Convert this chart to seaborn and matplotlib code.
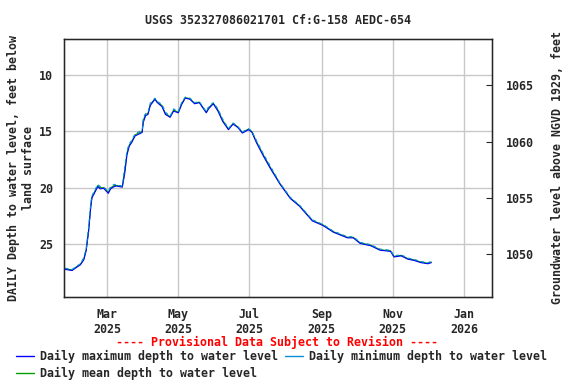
import pandas as pd
import matplotlib
matplotlib.use("Agg")
import matplotlib.pyplot as plt
import matplotlib.dates as mdates
from matplotlib.lines import Line2D
import seaborn as sns

dates = ["2025-01-24", "2025-01-30", "2025-02-03", "2025-02-06", "2025-02-09",
         "2025-02-11", "2025-02-13", "2025-02-15", "2025-02-16", "2025-02-19",
         "2025-02-21", "2025-02-23", "2025-02-26", "2025-03-02", "2025-03-04",
         "2025-03-07", "2025-03-09", "2025-03-14", "2025-03-16", "2025-03-18",
         "2025-03-20", "2025-03-22", "2025-03-25", "2025-03-31", "2025-04-01",
         "2025-04-03", "2025-04-05", "2025-04-07", "2025-04-11", "2025-04-13",
         "2025-04-17", "2025-04-20", "2025-04-24", "2025-04-27", "2025-05-01",
         "2025-05-04", "2025-05-07", "2025-05-11", "2025-05-15", "2025-05-19",
         "2025-05-25", "2025-05-27", "2025-05-31", "2025-06-04", "2025-06-08",
         "2025-06-13", "2025-06-17", "2025-06-21", "2025-06-25", "2025-06-30",
         "2025-07-03", "2025-07-07", "2025-07-13", "2025-07-19", "2025-07-27",
         "2025-08-05", "2025-08-13", "2025-08-24", "2025-09-02", "2025-09-11",
         "2025-09-23", "2025-09-28", "2025-10-04", "2025-10-13", "2025-10-21",
         "2025-10-30", "2025-11-02", "2025-11-08", "2025-11-14", "2025-11-19",
         "2025-11-25", "2025-12-01", "2025-12-04"]

mean_depth = [27.2, 27.3, 27.0, 26.8, 26.3, 25.5, 23.8, 21.5, 20.8, 20.2,
              19.8, 20.0, 20.0, 20.4, 20.0, 19.8, 19.8, 19.9, 18.5, 16.9,
              16.2, 15.9, 15.3, 15.0, 14.0, 13.5, 13.4, 12.6, 12.1, 12.4,
              12.7, 13.4, 13.7, 13.1, 13.3, 12.5, 12.0, 12.1, 12.5, 12.4,
              13.3, 12.9, 12.5, 13.1, 14.0, 14.8, 14.3, 14.6, 15.1, 14.8,
              15.0, 15.9, 17.1, 18.2, 19.6, 20.9, 21.6, 22.9, 23.3, 23.9,
              24.4, 24.4, 24.9, 25.1, 25.5, 25.6, 26.1, 26.0, 26.3, 26.4,
              26.6, 26.7, 26.6]

max_depth = [27.25, 27.35, 27.05, 26.85, 26.4, 25.6, 24.0, 21.7, 20.9, 20.3,
             19.9, 20.1, 20.05, 20.5, 20.1, 19.9, 19.85, 19.95, 18.8, 17.1,
             16.3, 16.0, 15.4, 15.1, 14.2, 13.6, 13.5, 12.7, 12.15, 12.45,
             12.8, 13.5, 13.75, 13.2, 13.35, 12.6, 12.05, 12.15, 12.55, 12.45,
             13.35, 13.0, 12.55, 13.2, 14.1, 14.85, 14.35, 14.65, 15.15, 14.85,
             15.05, 16.0, 17.2, 18.3, 19.65, 20.95, 21.65, 22.95, 23.35, 23.95,
             24.45, 24.45, 24.95, 25.15, 25.55, 25.65, 26.15, 26.05, 26.35, 26.45,
             26.65, 26.75, 26.65]

min_depth = [27.15, 27.25, 26.95, 26.75, 26.2, 25.4, 23.6, 21.3, 20.7, 20.1,
             19.7, 19.9, 19.95, 20.3, 19.9, 19.7, 19.75, 19.85, 18.2, 16.7,
             16.1, 15.8, 15.2, 14.9, 13.8, 13.4, 13.3, 12.5, 12.05, 12.35,
             12.6, 13.3, 13.65, 13.0, 13.25, 12.4, 11.95, 12.05, 12.45, 12.35,
             13.25, 12.8, 12.45, 13.0, 13.9, 14.75, 14.25, 14.55, 15.05, 14.75,
             14.95, 15.8, 17.0, 18.1, 19.55, 20.85, 21.55, 22.85, 23.25, 23.85,
             24.35, 24.35, 24.85, 25.05, 25.45, 25.55, 26.05, 25.95, 26.25, 26.35,
             26.55, 26.65, 26.55]

land_surface = 1075.9
depth_ticks = [10, 15, 20, 25]
elev_ticks = [1050, 1055, 1060, 1065]

df = pd.DataFrame({"date": pd.to_datetime(dates), "max": max_depth,
                   "min": min_depth, "mean": mean_depth})

sns.set_style("white")
plt.rcParams["font.family"] = ["DejaVu Sans Mono"]
plt.rcParams["font.weight"] = "bold"
plt.rcParams["font.size"] = 8.4

fig = plt.figure(figsize=(5.76, 3.84), dpi=100)
ax = fig.add_axes([64 / 576, 87 / 384, 428 / 576, 258 / 384])

c_max, c_min, c_mean = "#0000ff", "#0a8fd6", "#00a000"
sns.lineplot(data=df, x="date", y="mean", ax=ax, color=c_mean, lw=0.8)
sns.lineplot(data=df, x="date", y="max", ax=ax, color=c_max, lw=0.8)
sns.lineplot(data=df, x="date", y="min", ax=ax, color=c_min, lw=0.8,
             linestyle=(0, (3, 3)))

ax.set_xlim(pd.Timestamp("2025-01-23"), pd.Timestamp("2026-01-25"))
ax.set_ylim(29.7, 6.8)
ax.set_yticks(depth_ticks)
ax.xaxis.set_major_locator(mdates.MonthLocator(bymonth=[1, 3, 5, 7, 9, 11]))
ax.xaxis.set_major_formatter(mdates.DateFormatter("%b\n%Y"))
ax.grid(True, color="#c8c8c8", lw=1)
ax.tick_params(axis="both", length=0, pad=8)
for lab in ax.get_xticklabels() + ax.get_yticklabels():
    lab.set_fontweight("bold")
for s in ax.spines.values():
    s.set_color("black")
    s.set_linewidth(1)
ax.set_xlabel("")
ax.set_ylabel("DAILY Depth to water level, feet below\nland surface",
              labelpad=3, fontsize=8.4, fontweight="bold")

ax2 = ax.twinx()
ax2.set_ylim(land_surface - 29.7, land_surface - 6.8)
ax2.set_yticks(elev_ticks)
ax2.tick_params(axis="y", direction="in", length=4, pad=10)
for lab in ax2.get_yticklabels():
    lab.set_fontweight("bold")
ax2.set_ylabel("Groundwater level above NGVD 1929, feet", labelpad=12,
               fontsize=8.4, fontweight="bold")

ax.set_title("USGS 352327086021701 Cf:G-158 AEDC-654", pad=11,
             fontsize=8.4, fontweight="bold")

fig.text(277 / 576, 1 - 342 / 384, "---- Provisional Data Subject to Revision ----",
         color="red", ha="center", va="center", fontsize=8.4, fontweight="bold")

handles = [Line2D([], [], color=c_max, lw=1),
           Line2D([], [], color=c_mean, lw=1),
           Line2D([], [], color=c_min, lw=1)]
labels = ["Daily maximum depth to water level",
          "Daily mean depth to water level",
          "Daily minimum depth to water level"]
fig.legend(handles, labels, ncol=2, loc="upper left",
           bbox_to_anchor=(16 / 576, 1 - 350 / 384), frameon=False,
           prop={"weight": "bold", "size": 8.4},
           handlelength=1.55, handletextpad=0.5, columnspacing=0.6,
           labelspacing=0.35, borderaxespad=0, borderpad=0)

fig.savefig("out.png", dpi=100)
